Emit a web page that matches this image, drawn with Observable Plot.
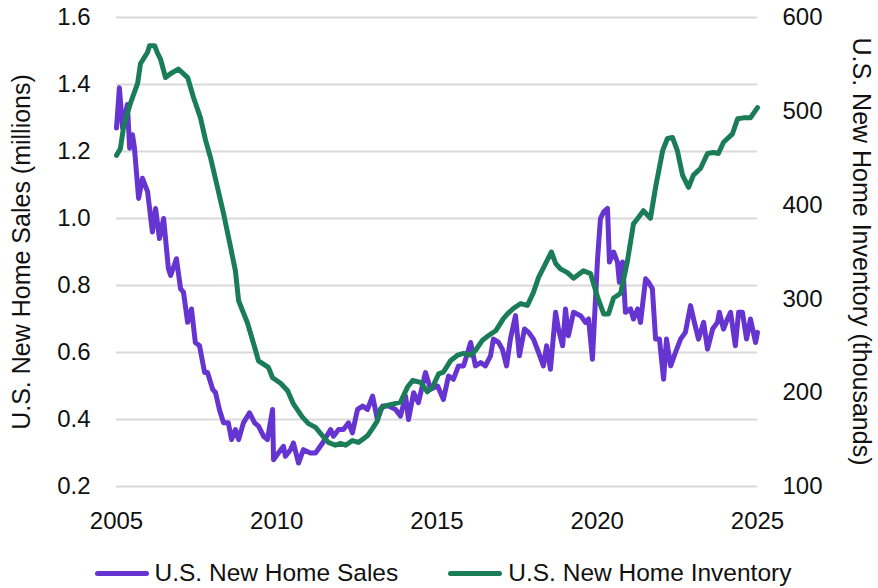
<!DOCTYPE html>
<html>
<head>
<meta charset="utf-8">
<script src="https://cdn.jsdelivr.net/npm/d3@7"></script>
<script src="https://cdn.jsdelivr.net/npm/@observablehq/plot@0.6"></script>
<style>
  html, body { margin: 0; padding: 0; background: #fff; }
  body { width: 878px; height: 588px; overflow: hidden; font-family: "Liberation Sans", Arial, sans-serif; }
  #legend { display: flex; justify-content: center; align-items: center; height: 50px; gap: 50px; margin-left: 8px; font-size: 24.5px; color: #111; }
  .item { display: flex; align-items: center; gap: 6px; }
  .sw { width: 54px; height: 5px; border-radius: 3px; }
</style>
</head>
<body>
<div id="chart"></div>
<div id="legend"></div>
<script>
// ---- Data ----
const seriesNames = ["U.S. New Home Sales", "U.S. New Home Inventory"];
const seriesColors = ["#6634d1", "#1a7d57"];

const salesYears = [2005.00,2005.09,2005.19,2005.34,2005.41,2005.50,2005.56,2005.69,2005.81,2005.97,
  2006.12,2006.22,2006.34,2006.47,2006.62,2006.69,2006.87,2007.00,2007.09,2007.22,2007.34,2007.46,2007.59,2007.75,2007.84,
  2008.00,2008.09,2008.21,2008.34,2008.49,2008.59,2008.71,2008.81,2008.96,2009.15,2009.31,2009.43,2009.59,2009.71,2009.87,2009.90,
  2010.05,2010.21,2010.27,2010.43,2010.52,2010.68,2010.83,2011.05,2011.21,2011.43,2011.68,2011.77,2011.93,
  2012.08,2012.24,2012.36,2012.52,2012.68,2012.83,2012.99,2013.14,2013.30,2013.49,2013.71,2013.86,
  2014.02,2014.11,2014.27,2014.42,2014.64,2014.80,2015.02,2015.20,2015.36,2015.51,2015.67,2015.83,
  2016.05,2016.20,2016.36,2016.51,2016.67,2016.76,2016.92,2017.04,2017.17,2017.29,2017.45,2017.57,2017.73,2017.86,
  2018.01,2018.17,2018.32,2018.42,2018.54,2018.70,2018.79,2018.92,2019.01,2019.10,2019.26,2019.48,2019.63,2019.73,2019.85,
  2020.01,2020.10,2020.20,2020.32,2020.38,2020.51,2020.63,2020.69,2020.79,2020.88,2021.04,2021.13,2021.26,2021.35,
  2021.51,2021.60,2021.72,2021.82,2021.94,2022.07,2022.16,2022.29,2022.44,2022.60,2022.75,2022.91,
  2023.03,2023.16,2023.32,2023.44,2023.60,2023.75,2023.81,2023.94,2024.06,2024.16,2024.31,2024.41,2024.53,2024.66,2024.78,2024.94,2025.00];
const salesValues = [1.27,1.39,1.27,1.34,1.21,1.25,1.21,1.06,1.12,1.08,
  0.96,1.03,0.94,1.00,0.85,0.83,0.88,0.79,0.78,0.69,0.73,0.63,0.62,0.54,0.54,
  0.49,0.48,0.43,0.39,0.39,0.34,0.37,0.34,0.39,0.42,0.39,0.38,0.35,0.34,0.43,0.28,
  0.30,0.32,0.29,0.31,0.33,0.27,0.31,0.30,0.30,0.33,0.37,0.35,0.37,
  0.37,0.39,0.36,0.43,0.44,0.43,0.47,0.40,0.44,0.44,0.43,0.41,
  0.47,0.40,0.48,0.45,0.54,0.49,0.50,0.46,0.53,0.52,0.56,0.56,
  0.63,0.56,0.57,0.56,0.59,0.64,0.63,0.61,0.56,0.64,0.71,0.59,0.67,0.66,
  0.64,0.60,0.56,0.62,0.55,0.72,0.67,0.62,0.73,0.65,0.72,0.71,0.69,0.70,0.58,
  0.88,1.00,1.02,1.03,0.87,0.90,0.87,0.81,0.87,0.72,0.73,0.70,0.73,0.69,
  0.82,0.81,0.79,0.64,0.64,0.52,0.64,0.56,0.60,0.64,0.66,0.74,
  0.69,0.64,0.69,0.61,0.67,0.69,0.72,0.67,0.70,0.72,0.62,0.72,0.72,0.64,0.70,0.63,0.66];

const invYears = [2005.00,2005.12,2005.22,2005.34,2005.44,2005.66,2005.75,2005.97,2006.03,2006.19,2006.28,2006.37,2006.53,2006.68,2006.93,
  2007.06,2007.22,2007.40,2007.62,2007.78,2007.93,2008.15,2008.34,2008.56,2008.71,2008.81,2009.09,2009.34,2009.43,2009.74,2009.87,
  2010.12,2010.34,2010.52,2010.80,2010.99,2011.21,2011.43,2011.61,2011.83,2011.99,2012.15,2012.36,2012.55,2012.83,2012.99,
  2013.14,2013.24,2013.39,2013.64,2013.86,2014.08,2014.24,2014.49,2014.70,2014.86,2015.05,2015.20,2015.42,2015.64,2015.83,
  2016.05,2016.20,2016.42,2016.61,2016.83,2016.98,2017.07,2017.20,2017.39,2017.61,2017.82,2018.01,2018.17,2018.39,2018.57,2018.70,2018.85,
  2019.07,2019.26,2019.57,2019.79,2020.01,2020.20,2020.35,2020.51,2020.73,2020.94,2021.13,2021.29,2021.44,2021.66,2021.82,
  2022.04,2022.19,2022.35,2022.50,2022.66,2022.85,2023.00,2023.22,2023.44,2023.63,2023.78,2023.94,2024.22,2024.38,2024.56,2024.78,2024.94,2025.00];
const invValues = [453,460,483,498,509,530,551,563,570,570,562,556,536,540,545,
  541,536,515,493,469,451,419,391,355,330,298,274,245,234,227,216,
  210,202,188,174,167,163,154,147,144,146,144,149,147,154,162,
  170,183,186,188,190,206,213,211,201,206,220,222,234,240,242,
  240,245,256,261,266,274,279,284,290,295,293,307,323,338,350,338,332,
  328,322,330,327,302,284,284,301,306,340,380,387,394,386,419,
  458,471,472,458,432,419,432,439,455,456,455,467,476,492,493,493,501,504];

const leftTicks = [0.2, 0.4, 0.6, 0.8, 1.0, 1.2, 1.4, 1.6];
const rightTicks = [100, 200, 300, 400, 500, 600];
const xTicks = [2005, 2010, 2015, 2020, 2025];
const leftLabel = "U.S. New Home Sales (millions)";
const rightLabel = "U.S. New Home Inventory (thousands)";

// ---- Build tables ----
const sales = salesYears.map((t, i) => ({t, v: salesValues[i]}));
const inv = invYears.map((t, i) => ({t, v: invValues[i]}));

// map right-axis (inventory) into left-axis units
const L = [leftTicks[0], leftTicks[leftTicks.length - 1]];
const R = [rightTicks[0], rightTicks[rightTicks.length - 1]];
const toLeft = d3.scaleLinear().domain(R).range(L);

const W = 878, H = 548, mL = 116, mR = 121, mT = 17, mB = 62;

const chart = Plot.plot({
  width: W,
  height: H,
  marginLeft: mL,
  marginRight: mR,
  marginTop: mT,
  marginBottom: mB,
  style: {fontFamily: "Liberation Sans, Arial, sans-serif", fontSize: "24px", color: "#111", background: "#fff"},
  x: {domain: [2005, 2025]},
  y: {domain: L},
  marks: [
    Plot.gridY(leftTicks, {stroke: "#d9d9d9", strokeOpacity: 1, strokeWidth: 2}),
    Plot.axisX(xTicks, {tickSize: 0, tickPadding: 25, tickFormat: d3.format("d"), label: null, fontSize: 24}),
    Plot.axisY(leftTicks, {anchor: "left", tickSize: 0, tickPadding: 26, tickFormat: d3.format(".1f"),
      label: leftLabel, labelAnchor: "center", labelArrow: "none", labelOffset: 104, fontSize: 24}),
    Plot.axisY(rightTicks.map(toLeft), {anchor: "right", tickSize: 0, tickPadding: 25,
      tickFormat: d => d3.format("d")(Math.round(toLeft.invert(d))),
      label: rightLabel, labelAnchor: "center", labelArrow: "none", labelOffset: 108, fontSize: 24}),
    Plot.line(sales, {x: "t", y: "v", stroke: seriesColors[0], strokeWidth: 5, strokeLinejoin: "round", strokeLinecap: "round"}),
    Plot.line(inv, {x: "t", y: d => toLeft(d.v), stroke: seriesColors[1], strokeWidth: 5, strokeLinejoin: "round", strokeLinecap: "round"})
  ]
});
document.getElementById("chart").appendChild(chart);

// axis title styling: larger text; right title reads top-to-bottom as in the reference
const labels = d3.select(chart).selectAll('[aria-label="y-axis label"]');
labels.selectAll("text").style("font-size", "25px");
labels.each(function() {
  const t = d3.select(this).select("text");
  if (t.text() === rightLabel) {
    const cy = mT + (H - mT - mB) / 2;
    d3.select(this).attr("transform", null);
    t.attr("transform", `translate(${W - 16},${cy}) rotate(90)`)
     .attr("x", null).attr("y", null).attr("dy", "0.35em").attr("text-anchor", "middle");
  }
});

// legend
const leg = d3.select("#legend");
seriesNames.forEach((n, i) => {
  const it = leg.append("div").attr("class", "item");
  it.append("div").attr("class", "sw").style("background", seriesColors[i]);
  it.append("span").text(n);
});
</script>
</body>
</html>
